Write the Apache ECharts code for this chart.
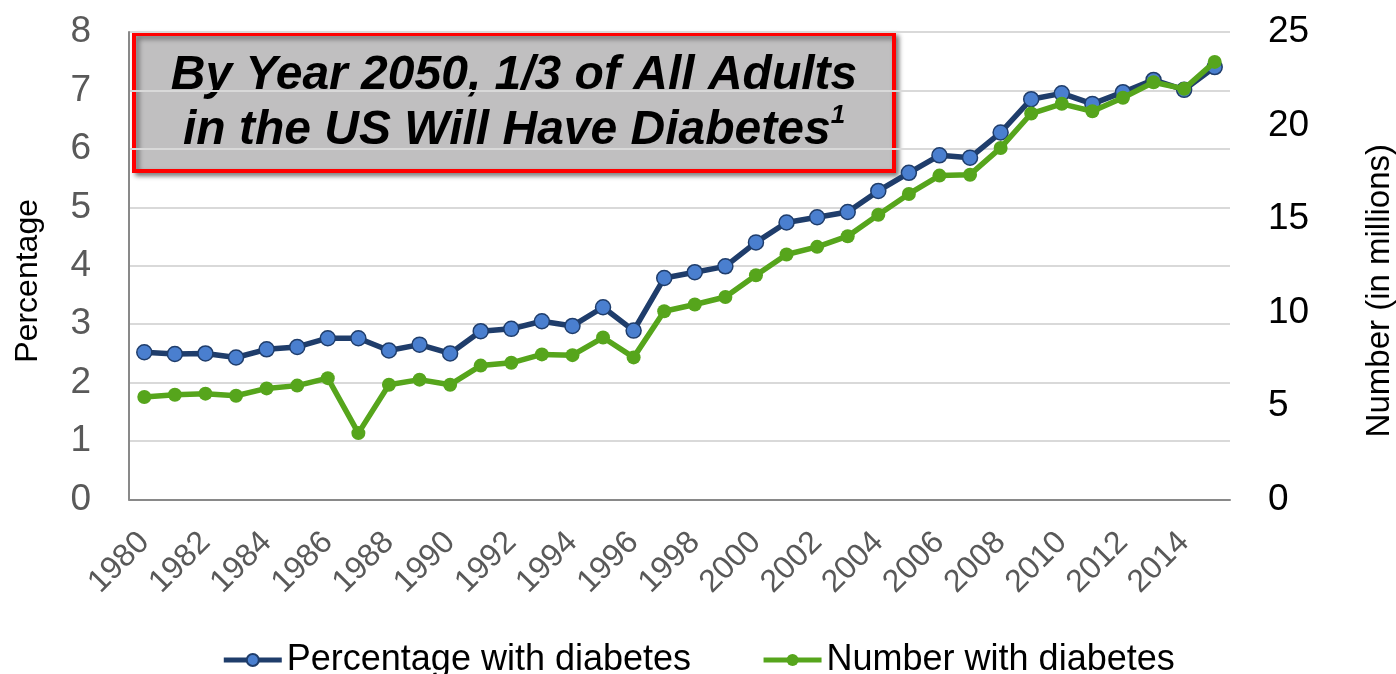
<!DOCTYPE html>
<html>
<head>
<meta charset="utf-8">
<title>Diabetes trend 1980–2015</title>
<script src="https://cdn.jsdelivr.net/npm/echarts@6/dist/echarts.min.js"></script>
<style>
  html, body { margin: 0; padding: 0; background: #ffffff; }
  #chart { width: 1396px; height: 674px; }
</style>
</head>
<body>
<div id="chart"></div>
<script>
// Years on the category axis
const years = [
  '1980','1981','1982','1983','1984','1985','1986','1987','1988','1989','1990','1991',
  '1992','1993','1994','1995','1996','1997','1998','1999','2000','2001','2002','2003',
  '2004','2005','2006','2007','2008','2009','2010','2011','2012','2013','2014','2015'
];

// Percentage of adults with diagnosed diabetes (left axis)
const percentWithDiabetes = [
  2.52, 2.49, 2.50, 2.43, 2.57, 2.61, 2.76, 2.76, 2.55, 2.65, 2.50, 2.88,
  2.92, 3.05, 2.97, 3.29, 2.89, 3.79, 3.89, 3.99, 4.40, 4.74, 4.83, 4.92,
  5.28, 5.59, 5.89, 5.85, 6.28, 6.85, 6.95, 6.77, 6.97, 7.18, 7.01, 7.40
];

// Number of adults with diagnosed diabetes, millions (right axis)
const numberWithDiabetes = [
  5.48, 5.60, 5.66, 5.55, 5.94, 6.09, 6.49, 3.55, 6.14, 6.41, 6.14, 7.16,
  7.31, 7.76, 7.72, 8.66, 7.60, 10.07, 10.43, 10.83, 11.99, 13.10, 13.51, 14.08,
  15.23, 16.34, 17.32, 17.37, 18.80, 20.64, 21.16, 20.76, 21.48, 22.31, 21.96, 23.40
];

// Axis ranges and captions
const leftAxisMax = 8;
const leftAxisStep = 1;
const rightAxisMax = 25;
const rightAxisStep = 5;
const seriesNames = ['Percentage with diabetes', 'Number with diabetes'];
const leftAxisTitle = 'Percentage';
const rightAxisTitle = 'Number (in millions)';
const headlineLine1 = 'By Year 2050, 1/3 of All Adults';
const headlineLine2 = 'in the US Will Have Diabetes';

const FONT = '"Liberation Sans", Arial, Helvetica, sans-serif';

const chart = echarts.init(document.getElementById('chart'), null, { renderer: 'canvas' });

chart.setOption({
  animation: false,
  backgroundColor: '#ffffff',
  textStyle: { fontFamily: FONT },
  grid: { left: 129, right: 166, top: 32, bottom: 174.5, containLabel: false },
  legend: {
    data: seriesNames,
    left: 'center',
    top: 637,
    itemWidth: 58,
    itemHeight: 15,
    itemGap: 70,
    lineStyle: { width: 5 },
    textStyle: { fontFamily: FONT, fontSize: 36, color: '#000000' }
  },
  xAxis: {
    type: 'category',
    data: years,
    boundaryGap: true,
    axisLine: { show: true, lineStyle: { color: '#898989', width: 2 } },
    axisTick: { show: false },
    axisLabel: {
      interval: 1,
      rotate: 45,
      margin: 38,
      fontFamily: FONT,
      fontSize: 32,
      color: '#595959'
    },
    splitLine: { show: false }
  },
  yAxis: [
    {
      type: 'value',
      min: 0,
      max: leftAxisMax,
      interval: leftAxisStep,
      position: 'left',
      axisLine: { show: true, lineStyle: { color: '#898989', width: 2 } },
      axisTick: { show: false },
      axisLabel: { margin: 38, fontFamily: FONT, fontSize: 37, color: '#595959' },
      splitLine: { show: true, lineStyle: { color: '#d9d9d9', width: 2 } }
    },
    {
      type: 'value',
      min: 0,
      max: rightAxisMax,
      interval: rightAxisStep,
      position: 'right',
      axisLine: { show: false },
      axisTick: { show: false },
      axisLabel: { margin: 38, fontFamily: FONT, fontSize: 37, color: '#000000' },
      splitLine: { show: false }
    }
  ],
  series: [
    {
      name: seriesNames[0],
      type: 'line',
      yAxisIndex: 0,
      data: percentWithDiabetes,
      symbol: 'circle',
      symbolSize: 15,
      showAllSymbol: true,
      lineStyle: { color: '#1f3d6b', width: 5.5 },
      itemStyle: { color: '#4a7fcf', borderColor: '#1f3d6b', borderWidth: 1.5 },
      z: 2
    },
    {
      name: seriesNames[1],
      type: 'line',
      yAxisIndex: 1,
      data: numberWithDiabetes,
      symbol: 'circle',
      symbolSize: 14,
      showAllSymbol: true,
      lineStyle: { color: '#56a51c', width: 5.5 },
      itemStyle: { color: '#56a51c', borderColor: '#56a51c', borderWidth: 0 },
      z: 3
    }
  ],
  graphic: [
    {
      type: 'text',
      left: 12,
      top: 199,
      rotation: Math.PI / 2,
      style: {
        text: leftAxisTitle,
        font: '32px ' + FONT,
        fill: '#000000'
      }
    },
    {
      type: 'text',
      left: 1363,
      top: 144,
      rotation: Math.PI / 2,
      style: {
        text: rightAxisTitle,
        font: '33px ' + FONT,
        fill: '#000000'
      }
    },
    {
      type: 'group',
      left: 132,
      top: 32,
      z: 100,
      children: [
        {
          type: 'rect',
          shape: { x: 0, y: 0, width: 760, height: 137 },
          style: {
            fill: '#c0bfc0',
            stroke: '#ff0000',
            lineWidth: 4,
            shadowColor: 'rgba(0,0,0,0.45)',
            shadowBlur: 5,
            shadowOffsetX: 3,
            shadowOffsetY: 3
          }
        },
        {
          type: 'text',
          x: 380,
          y: 69,
          style: {
            text: headlineLine1 + '\n' + headlineLine2 + '{sup|1}',
            fontFamily: FONT,
            fontSize: 48,
            fontWeight: 'bold',
            fontStyle: 'italic',
            fill: '#000000',
            lineHeight: 55,
            align: 'center',
            verticalAlign: 'middle',
            rich: {
              sup: {
                fontFamily: FONT,
                fontSize: 26,
                fontWeight: 'bold',
                fontStyle: 'italic',
                fill: '#000000',
                verticalAlign: 'top',
                lineHeight: 55
              }
            }
          }
        }
      ]
    }
  ]
});
</script>
</body>
</html>
